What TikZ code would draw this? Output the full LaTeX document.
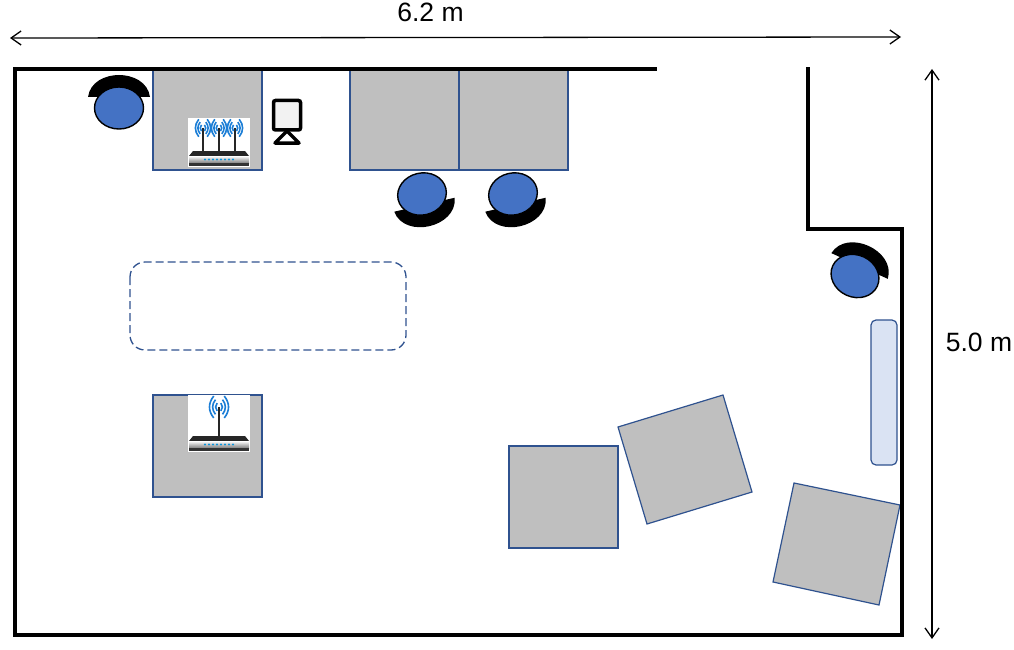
\documentclass[tikz,border=0pt]{standalone}
\usepackage{fontspec}
\setmainfont{Liberation Sans}
\usetikzlibrary{arrows.meta, positioning}
\definecolor{deskgray}{HTML}{BFBFBF}
\definecolor{edgeblue}{HTML}{2F528F}
\definecolor{seatblue}{HTML}{4472C4}
\definecolor{benchblue}{HTML}{DAE3F3}
\definecolor{waveblue}{HTML}{1C7ED6}
\tikzset{
  wall/.style={line width=4pt, line cap=rect, line join=miter},
  desk/.style={fill=deskgray, draw=edgeblue, line width=1.2pt},
  dimline/.style={{Straight Barb[length=10pt,width=14pt]}-{Straight Barb[length=10pt,width=14pt]}, line width=1.3pt},
  dimlabel/.style={font=\fontsize{26.5}{30}\selectfont, inner sep=0pt},
  pics/chair/.style={code={
    \fill[black] (-31,-11) .. controls (-29,-26) and (-14,-33) .. (0,-33)
      .. controls (14,-33) and (29,-26) .. (31,-11) -- cycle;
    \draw[fill=seatblue, line width=1.4pt] (0,0) ellipse [x radius=24.5pt, y radius=21pt];
  }},
  pics/antenna/.style={code={
    \draw[black!85, line width=2pt] (0,0) -- (0,23);
    \foreach \r in {2.5,4.7,7} {
      \draw[waveblue, line width=1.6pt] (-\r*0.6,-\r*1.25) .. controls (-\r*1.25,-\r*0.45) and (-\r*1.25,\r*0.45) .. (-\r*0.6,\r*1.25);
      \draw[waveblue, line width=1.6pt] (\r*0.6,-\r*1.25) .. controls (\r*1.25,-\r*0.45) and (\r*1.25,\r*0.45) .. (\r*0.6,\r*1.25);
    }
  }},
  pics/routerbody/.style={code={
    % origin is the middle of the top edge of the case
    \fill[black!85] (-26,0) -- (26,0) -- (30,5) -- (-30,5) -- cycle;
    \shade[top color=white, bottom color=black!50] (-30,5) rectangle (30,12);
    \fill[black!80] (-30,12) rectangle (30,15);
    \foreach \d in {-14,-10,...,14} \fill[cyan!80!blue] (\d,8.5) circle (1.1pt);
  }}
}
\begin{document}
\begin{tikzpicture}[x=1pt, y=-1pt]
  \useasboundingbox (0,0) rectangle (1014,650);

  % Desks along the top wall
  \draw[desk] (153,69) rectangle (262,170);
  \draw[desk] (350,69) rectangle (459,170);
  \draw[desk] (459,69) rectangle (568,170);

  % Desks in the room
  \draw[desk] (153,395) rectangle (262,497);
  \draw[desk] (509,446) rectangle (618,548);
  \draw[desk] (618,427) -- (723,395) -- (752,492) -- (647,524) -- cycle;
  \draw[desk] (794,483) -- (900,505) -- (879,605) -- (773,582) -- cycle;

  % Walls
  \draw[wall] (655,69) -- (15,69) -- (15,635) -- (902,635) -- (902,229) -- (808,229) -- (808,69);

  % Table outline and bench
  \draw[edgeblue, dash pattern=on 8pt off 4pt, line width=1.3pt, rounded corners=15pt] (130,262) rectangle (406,350);
  \draw[edgeblue, fill=benchblue, line width=1.2pt, rounded corners=5pt] (871,320) rectangle (897,465);

  % Chairs
  \pic at (119,108) {chair};
  \pic[rotate=193] at (422,194) {chair};
  \pic[rotate=193] at (513,194) {chair};
  \pic[rotate=-24.5] at (855,276) {chair};

  % Monitor
  \draw[black, fill=black!5, line width=3.5pt, rounded corners=2pt] (273.5,100.5) rectangle (300.5,130);
  \draw[black, line width=3.5pt, line join=round] (287,131) -- (275,143) -- (299,143) -- cycle;

  % Router with three antennas
  \fill[white] (188,118) rectangle (250,167);
  \foreach \ax in {203,219,235} \pic at (\ax,128) {antenna};
  \pic at (219,151) {routerbody};

  % Router with one antenna
  \fill[white] (188,395) rectangle (250,452);
  \pic[scale=1.25] at (219,407) {antenna};
  \pic at (219,436) {routerbody};

  % Dimensions
  \coordinate (widthL) at (10,38);
  \coordinate (widthR) at (901,37);
  \coordinate (heightT) at (932,69);
  \coordinate (heightB) at (932,639);
  \draw[dimline] (widthL) -- (widthR);
  \draw[dimline] (heightT) -- (heightB);
  \node[dimlabel] (widthlabel) at (430.5,12) {6.2 m};
  \node[dimlabel] (heightlabel) at (979,342) {5.0 m};
\end{tikzpicture}
\end{document}
